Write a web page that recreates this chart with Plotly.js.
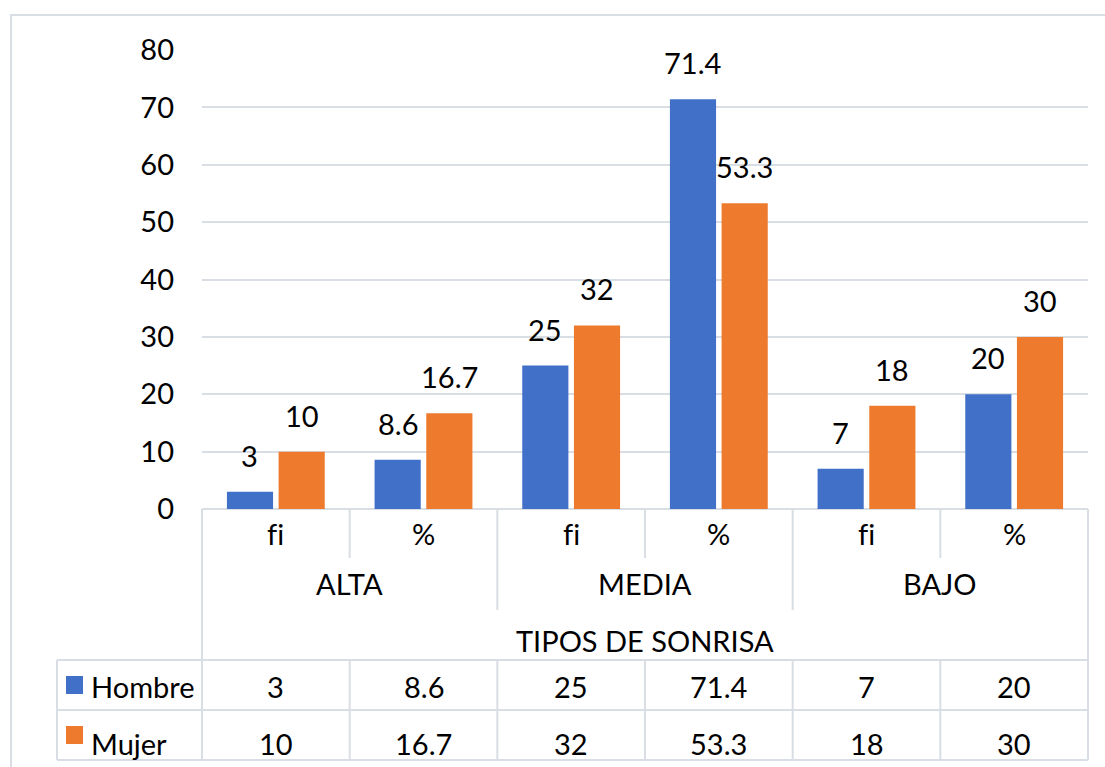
<!DOCTYPE html>
<html><head><meta charset="utf-8">
<script src="https://cdn.plot.ly/plotly-3.0.1.min.js"></script>
<style>html,body{margin:0;padding:0;background:#fff}</style>
</head><body><div id="chart" style="width:1105px;height:767px"></div>
<script>
// ---- data ----
const groups = ['ALTA', 'MEDIA', 'BAJO'];
const measures = ['fi', '%', 'fi', '%', 'fi', '%'];
const hombre = [3, 8.6, 25, 71.4, 7, 20];
const mujer = [10, 16.7, 32, 53.3, 18, 30];
const seriesNames = ['Hombre', 'Mujer'];
const axisTitle = 'TIPOS DE SONRISA';
const yTicks = [0, 10, 20, 30, 40, 50, 60, 70, 80];

// ---- layout helpers ----
const W = 1105, H = 767, L = 202, R = 1088, T = 50, B = 509;
const px = x => (x - L) / (R - L);
const py = y => (B - y) / (B - T);
const blue = '#4170C8', orange = '#EE7A2D', grid = '#D9DDE4';
const FONT = 'Lato, "Liberation Sans", sans-serif';
const FS = 29;
const idx = hombre.map((_, i) => i);
const colW = (R - L) / measures.length;

const traces = [
  {type: 'bar', name: seriesNames[0], x: idx, y: hombre, marker: {color: blue}},
  {type: 'bar', name: seriesNames[1], x: idx, y: mujer, marker: {color: orange}}
];

const ann = [];
const off = 0.176;
idx.forEach(i => {
  ann.push({x: i - off, y: hombre[i], xref: 'x', yref: 'y', text: String(hombre[i]), showarrow: false, yanchor: 'bottom', yshift: 17});
  ann.push({x: i + off, y: mujer[i], xref: 'x', yref: 'y', text: String(mujer[i]), showarrow: false, yanchor: 'bottom', yshift: 17});
  ann.push({x: i, y: py(533), xref: 'x', yref: 'paper', text: measures[i].split('').join('\u200C'), showarrow: false, yanchor: 'middle'});
  ann.push({x: i, y: py(686), xref: 'x', yref: 'paper', text: String(hombre[i]), showarrow: false, yanchor: 'middle'});
  ann.push({x: i, y: py(743), xref: 'x', yref: 'paper', text: String(mujer[i]), showarrow: false, yanchor: 'middle'});
});
groups.forEach((g, k) => {
  ann.push({x: 2 * k + 0.5, y: py(583), xref: 'x', yref: 'paper', text: g, showarrow: false, yanchor: 'middle'});
});
ann.push({x: 2.5, y: py(640), xref: 'x', yref: 'paper', text: axisTitle, showarrow: false, yanchor: 'middle'});
ann.push({x: px(89), y: py(686), xref: 'paper', yref: 'paper', text: seriesNames[0], showarrow: false, xanchor: 'left', yanchor: 'middle'});
ann.push({x: px(89), y: py(743), xref: 'paper', yref: 'paper', text: seriesNames[1], showarrow: false, xanchor: 'left', yanchor: 'middle'});

const shapes = [];
const ln = (x0, y0, x1, y1) => shapes.push({type: 'line', xref: 'paper', yref: 'paper', x0: px(x0), y0: py(y0), x1: px(x1), y1: py(y1), line: {color: grid, width: 2}});
// outer border
shapes.push({type: 'rect', xref: 'paper', yref: 'paper', x0: px(11), y0: py(15), x1: px(1112), y1: py(772), line: {color: grid, width: 2}, fillcolor: 'rgba(0,0,0,0)'});
// table
ln(L, B, L, 760); ln(R, B, R, 760);
for (let k = 1; k < measures.length; k++) {
  const x = L + k * colW;
  ln(x, B, x, k % 2 === 0 ? 610 : 558);
  ln(x, 660, x, 760);
}
ln(57, 660, R, 660); ln(57, 710, R, 710); ln(57, 760, R, 760); ln(57, 660, 57, 760);
// legend keys
shapes.push({type: 'rect', xref: 'paper', yref: 'paper', x0: px(66), x1: px(83), y0: py(676), y1: py(694), line: {width: 0}, fillcolor: blue});
shapes.push({type: 'rect', xref: 'paper', yref: 'paper', x0: px(66), x1: px(83), y0: py(726), y1: py(744), line: {width: 0}, fillcolor: orange});

const layout = {
  width: W, height: H,
  margin: {l: L, r: W - R, t: T, b: H - B, pad: 0},
  paper_bgcolor: '#fff', plot_bgcolor: '#fff',
  font: {family: FONT, size: FS, color: '#000'},
  showlegend: false,
  barmode: 'group', bargap: 0.30, bargroupgap: 0.107,
  xaxis: {range: [-0.5, 5.5], showticklabels: false, showgrid: false, zeroline: false, showline: false, ticks: '', fixedrange: true},
  yaxis: {range: [0, 80], tickvals: yTicks, gridcolor: grid, gridwidth: 2, zeroline: true, zerolinecolor: grid, zerolinewidth: 2,
          showline: false, ticks: '', ticklabelstandoff: 27, tickfont: {family: FONT, size: FS, color: '#000'}},
  annotations: ann,
  shapes: shapes
};
Plotly.newPlot('chart', traces, layout, {displayModeBar: false, staticPlot: true});
</script></body></html>
